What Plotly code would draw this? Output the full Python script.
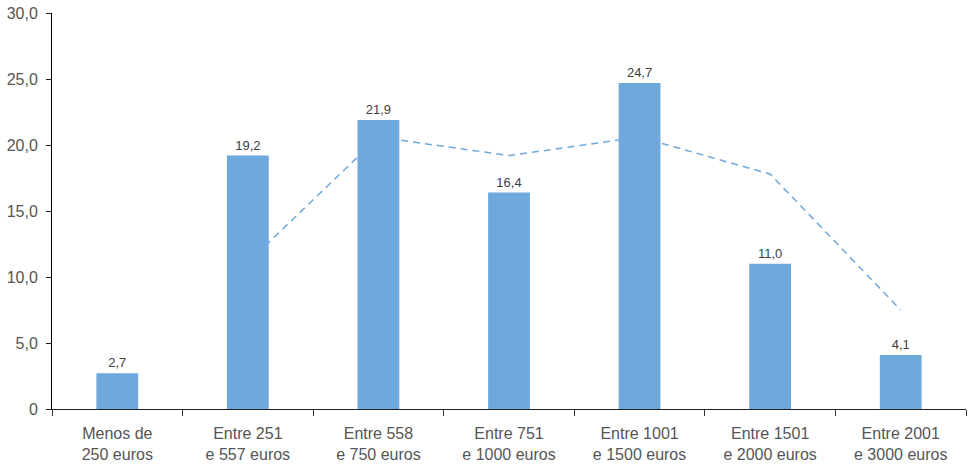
import plotly.graph_objects as go

categories = ["Menos de<br>250 euros", "Entre 251<br>e 557 euros", "Entre 558<br>e 750 euros",
              "Entre 751<br>e 1000 euros", "Entre 1001<br>e 1500 euros", "Entre 1501<br>e 2000 euros",
              "Entre 2001<br>e 3000 euros"]
bar_values = [2.7, 19.2, 21.9, 16.4, 24.7, 11.0, 4.1]
line_values = [None, 11.1, 20.6, 19.2, 20.6, 17.8, 7.5]
y_tickvals = [0, 5, 10, 15, 20, 25, 30]
y_ticktext = ["0", "5,0", "10,0", "15,0", "20,0", "25,0", "30,0"]

BLUE = "#6FA8DC"
FONT = "Liberation Sans, Arial, sans-serif"

fig = go.Figure()
# dashed line on the primary (lower) axes so the bars, on overlaid axes, cover it
fig.add_trace(go.Scatter(
    x=categories, y=line_values, mode="lines", xaxis="x", yaxis="y",
    line=dict(color=BLUE, width=1.5, dash="7px,5px"),
    connectgaps=False, hoverinfo="skip", showlegend=False,
))
fig.add_trace(go.Bar(
    x=categories, y=bar_values, width=0.32, xaxis="x2", yaxis="y2",
    marker=dict(color=BLUE, line=dict(width=0)),
    text=[f"{v:.1f}".replace(".", ",") for v in bar_values], textposition="outside",
    textfont=dict(size=13, color="#404040", family=FONT), cliponaxis=False,
    showlegend=False,
))

fig.update_layout(
    width=971, height=465,
    margin=dict(l=52, r=5, t=13, b=56, autoexpand=False),
    paper_bgcolor="white", plot_bgcolor="white",
    font=dict(family=FONT, size=16, color="#555555"),
    bargap=0.68,
    xaxis=dict(
        type="category", categoryorder="array", categoryarray=categories,
        tickson="boundaries", ticks="outside", ticklen=6, tickcolor="#333333",
        showline=True, linecolor="#222222", linewidth=1, showgrid=False, automargin=False,
        tickfont=dict(size=16, color="#555555"), range=[-0.5, 6.5], ticklabelstandoff=10,
        ticklabeloverflow="allow", layer="above traces",
    ),
    yaxis=dict(
        range=[0, 30], tickvals=y_tickvals, ticktext=y_ticktext, ticks="outside", ticklen=5,
        tickcolor="#222222", showline=True, linecolor="#000000", linewidth=1, showgrid=False,
        zeroline=False, tickfont=dict(size=16, color="#555555"), automargin=False,
        ticklabelstandoff=5, ticklabeloverflow="allow", layer="above traces",
    ),
    xaxis2=dict(
        type="category", categoryorder="array", categoryarray=categories,
        overlaying="x", range=[-0.5, 6.5], visible=False, showgrid=False,
    ),
    yaxis2=dict(
        overlaying="y", range=[0, 30], visible=False, showgrid=False, zeroline=False,
    ),
)

# remove the default 8px page margin so the figure fills the window exactly
fig.write_html(
    "out.html",
    config={"displayModeBar": False},
    post_script="document.body.style.margin='0';document.body.style.overflow='hidden';",
)
